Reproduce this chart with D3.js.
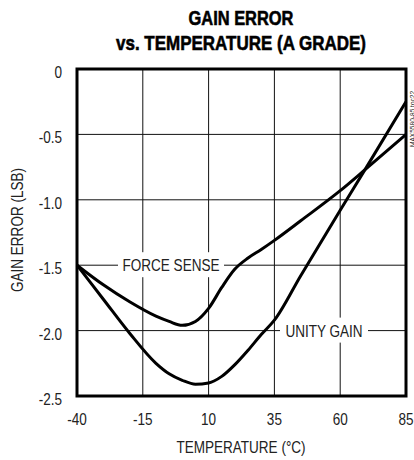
<!DOCTYPE html>
<html>
<head>
<meta charset="utf-8">
<script src="https://cdn.jsdelivr.net/npm/d3@7"></script>
<style>
  body { margin: 0; background: #fff; }
  svg { display: block; }
  text { font-family: "Liberation Sans", Arial, sans-serif; fill: #222; }
</style>
</head>
<body>
<div id="chart"></div>
<script>
// temperature (°C) samples
const temps = [-40, -30, -20, -10, -5, 0, 5, 10, 15, 20, 25, 30, 35, 45, 60, 70, 85];
// gain error (LSB)
const forceSense = [-1.50, -1.65, -1.78, -1.89, -1.93, -1.96, -1.93, -1.83, -1.67, -1.53, -1.445, -1.38, -1.31, -1.16, -0.93, -0.76, -0.50];
const unityGain  = [-1.50, -1.76, -2.02, -2.25, -2.33, -2.38, -2.41, -2.40, -2.35, -2.26, -2.15, -2.03, -1.92, -1.58, -1.08, -0.75, -0.25];

const xTicks = [-40, -15, 10, 35, 60, 85];
const yTicks = [0, -0.5, -1.0, -1.5, -2.0, -2.5];
const yTickText = ["0", "-0.5", "-1.0", "-1.5", "-2.0", "-2.5"];

const W = 414, H = 460;
const m = {left: 77, right: 8, top: 69, bottom: 64};
const fs = 16.5, narrow = 0.82;

const svg = d3.select("#chart").append("svg")
    .attr("width", W).attr("height", H);

const x = d3.scaleLinear().domain([-40, 85]).range([m.left, W - m.right]);
const y = d3.scaleLinear().domain([-2.5, 0]).range([H - m.bottom, m.top]);

// title
svg.append("text")
    .attr("x", 241).attr("y", 25)
    .attr("text-anchor", "middle")
    .attr("font-size", 21).attr("font-weight", "bold")
    .attr("textLength", 105).attr("lengthAdjust", "spacingAndGlyphs")
    .style("fill", "#000").style("stroke", "#000").style("stroke-width", 0.6)
    .text("GAIN ERROR");
svg.append("text")
    .attr("x", 241).attr("y", 50)
    .attr("text-anchor", "middle")
    .attr("font-size", 21).attr("font-weight", "bold")
    .attr("textLength", 250).attr("lengthAdjust", "spacingAndGlyphs")
    .style("fill", "#000").style("stroke", "#000").style("stroke-width", 0.6)
    .text("vs. TEMPERATURE (A GRADE)");

// grid
const grid = svg.append("g").attr("stroke", "#111").attr("stroke-width", 1);
grid.selectAll("line.v")
    .data(xTicks.slice(1, -1))
    .join("line")
    .attr("x1", d => x(d)).attr("x2", d => x(d))
    .attr("y1", y(0)).attr("y2", y(-2.5));
grid.selectAll("line.h")
    .data(yTicks.slice(1, -1))
    .join("line")
    .attr("x1", x(-40)).attr("x2", x(85))
    .attr("y1", d => y(d)).attr("y2", d => y(d));

// curve labels with white knock-out
function curveLabel(txt, cx, val, w) {
    svg.append("rect")
        .attr("x", cx - w / 2).attr("y", y(val) - 13)
        .attr("width", w).attr("height", 25)
        .attr("fill", "#fff");
    svg.append("text")
        .attr("class", "nar")
        .attr("x", cx).attr("y", y(val) + 6)
        .attr("text-anchor", "middle")
        .attr("font-size", fs)
        .text(txt);
}
curveLabel("FORCE SENSE", 171, -1.5, 106);
curveLabel("UNITY GAIN", 324, -2.0, 88);

// curves
const line = d3.line()
    .x((d, i) => x(temps[i]))
    .y(d => y(d))
    .curve(d3.curveMonotoneX);

svg.append("path")
    .datum(forceSense)
    .attr("d", line)
    .attr("fill", "none").attr("stroke", "#000").attr("stroke-width", 3);
svg.append("path")
    .datum(unityGain)
    .attr("d", line)
    .attr("fill", "none").attr("stroke", "#000").attr("stroke-width", 3);

// frame
svg.append("rect")
    .attr("x", x(-40)).attr("y", y(0))
    .attr("width", x(85) - x(-40)).attr("height", y(-2.5) - y(0))
    .attr("fill", "none").attr("stroke", "#000").attr("stroke-width", 3);

// axes (labels only)
svg.append("g")
    .selectAll("text")
    .data(yTicks)
    .join("text")
    .attr("class", "nar")
    .attr("x", 62).attr("y", d => y(d) + 9)
    .attr("text-anchor", "end")
    .attr("font-size", fs)
    .text((d, i) => yTickText[i]);

svg.append("g")
    .selectAll("text")
    .data(xTicks)
    .join("text")
    .attr("class", "nar")
    .attr("x", d => x(d)).attr("y", 425)
    .attr("text-anchor", "middle")
    .attr("font-size", fs)
    .text(d => d);

svg.append("text")
    .attr("class", "nar")
    .attr("x", 241).attr("y", 453)
    .attr("text-anchor", "middle")
    .attr("font-size", fs)
    .text("TEMPERATURE (°C)");

svg.append("text")
    .attr("class", "nar")
    .attr("transform", "translate(23,230) rotate(-90)")
    .attr("text-anchor", "middle")
    .attr("font-size", fs)
    .text("GAIN ERROR (LSB)");

// part number tag
svg.append("text")
    .attr("class", "nar")
    .attr("transform", "translate(415,147) rotate(-90)")
    .attr("font-size", 8)
    .text("MAX5580-85 toc22");

// squeeze into a condensed look
svg.selectAll("text.nar").each(function () {
    const len = this.getComputedTextLength();
    d3.select(this)
        .attr("textLength", len * narrow)
        .attr("lengthAdjust", "spacingAndGlyphs");
});
</script>
</body>
</html>
